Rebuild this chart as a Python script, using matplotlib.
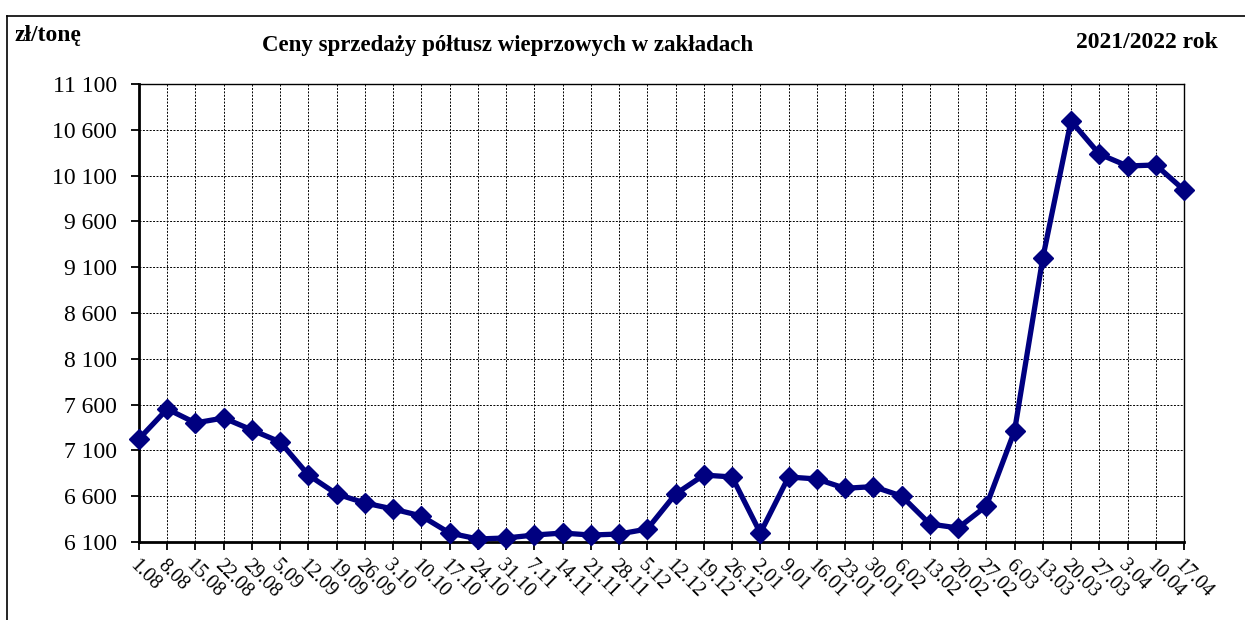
import matplotlib
matplotlib.use("Agg")
import matplotlib.pyplot as plt
from matplotlib.lines import Line2D

plt.rcParams['font.family'] = ['Liberation Serif', 'DejaVu Serif']

dates = ["1.08", "8.08", "15.08", "22.08", "29.08", "5.09", "12.09", "19.09", "26.09",
         "3.10", "10.10", "17.10", "24.10", "31.10", "7.11", "14.11", "21.11", "28.11",
         "5.12", "12.12", "19.12", "26.12", "2.01", "9.01", "16.01", "23.01", "30.01",
         "6.02", "13.02", "20.02", "27.02", "6.03", "13.03", "20.03", "27.03", "3.04",
         "10.04", "17.04"]
prices = [7225, 7552, 7400, 7454, 7323, 7192, 6831, 6624, 6526,
          6460, 6384, 6198, 6133, 6144, 6176, 6198, 6176, 6187,
          6242, 6624, 6831, 6810, 6198, 6810, 6788, 6686, 6705,
          6602, 6297, 6253, 6493, 7312, 9200, 10697, 10336, 10205,
          10216, 9943]
y_ticks = [6100, 6600, 7100, 7600, 8100, 8600, 9100, 9600, 10100, 10600, 11100]

fig = plt.figure(figsize=(12.45, 6.2), dpi=100)
ax = fig.add_axes([0.1116, 0.1258, 0.8394, 0.7387])

x = list(range(len(dates)))
ax.plot(x, prices, color='#000080', linewidth=3.8, marker='D', markersize=10,
        zorder=3, clip_on=False)

ax.set_xlim(0, len(dates) - 1)
ax.set_ylim(6100, 11100)
ax.set_yticks(y_ticks)
ax.set_yticklabels([f"{v:,}".replace(",", " ") for v in y_ticks], fontsize=17)
ax.set_xticks(x)
ax.set_xticklabels(dates, rotation=-45, ha='left', va='top', rotation_mode='anchor',
                   fontsize=14.5)
ax.tick_params(axis='x', direction='out', length=6, width=1.3, pad=4)
ax.tick_params(axis='y', direction='out', length=6, width=1.3, pad=10)

ax.grid(True, color='black', linestyle=(0, (2, 1.5)), linewidth=0.7)
ax.set_axisbelow(True)
for side in ['left', 'bottom']:
    ax.spines[side].set_linewidth(2)
for side in ['top', 'right']:
    ax.spines[side].set_linewidth(1)

fig.text(0.012, 0.943, "zł/tonę", fontsize=17, fontweight='bold', ha='left', va='center')
fig.text(0.408, 0.926, "Ceny sprzedaży półtusz wieprzowych w zakładach", fontsize=16.5,
         fontweight='bold', ha='center', va='center')
fig.text(0.978, 0.932, "2021/2022 rok", fontsize=17, fontweight='bold', ha='right', va='center')

# outer frame (top and left edges visible)
fig.add_artist(Line2D([0.006, 0.006], [0.0, 0.974], color='black', linewidth=1.2,
                      transform=fig.transFigure))
fig.add_artist(Line2D([0.006, 1.0], [0.974, 0.974], color='black', linewidth=1.2,
                      transform=fig.transFigure))

fig.savefig("out.png", dpi=100)
